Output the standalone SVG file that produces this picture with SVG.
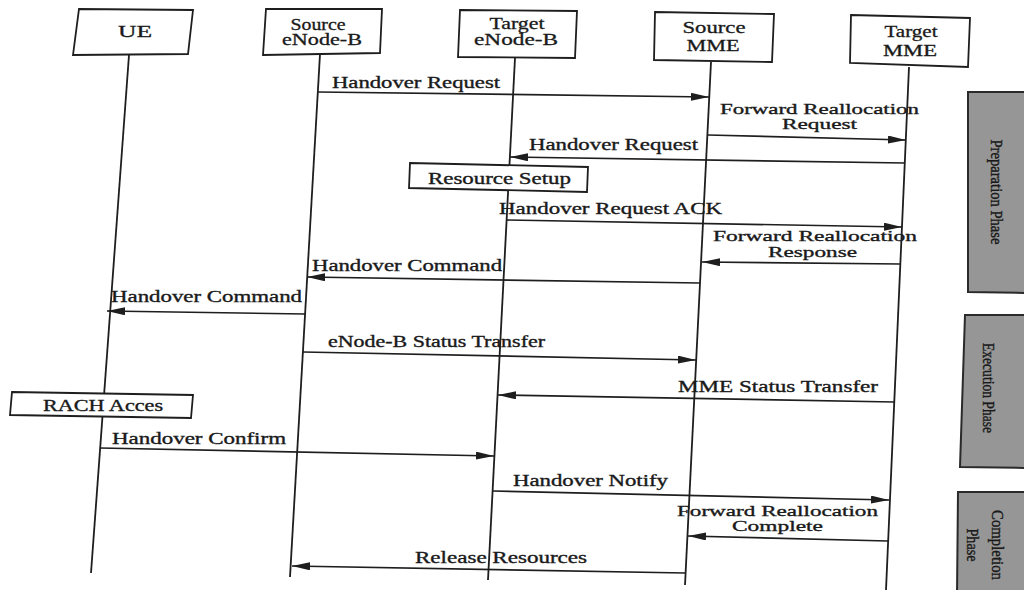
<svg xmlns="http://www.w3.org/2000/svg" width="1024" height="590" viewBox="0 0 1024 590">
  <style>
    .box { fill: #ffffff; stroke: #1e1e1e; stroke-width: 1.8; }
    .life { stroke: #1e1e1e; stroke-width: 1.8; fill: none; }
    .msg { stroke: #1e1e1e; stroke-width: 1.7; fill: none; marker-end: url(#arrow); }
    .lbl { font-family: "Liberation Serif", "Times New Roman", serif; font-size: 16px; fill: #1a1a1a; stroke: #1a1a1a; stroke-width: 0.35; }
    .lbl2 { font-family: "Liberation Serif", "Times New Roman", serif; font-size: 15px; fill: #1a1a1a; stroke: #1a1a1a; stroke-width: 0.35; }
    .hdr { font-family: "Liberation Serif", "Times New Roman", serif; font-size: 16px; fill: #1a1a1a; stroke: #1a1a1a; stroke-width: 0.3; text-anchor: middle; }
    .phase { fill: #969696; stroke: #2a2a2a; stroke-width: 2; }
    .ptxt { font-family: "Liberation Serif", "Times New Roman", serif; font-size: 17px; fill: #1a1a1a; stroke: #1a1a1a; stroke-width: 0.4; text-anchor: middle; }
  </style>
  <defs>
    <marker id="arrow" markerUnits="userSpaceOnUse" markerWidth="18" markerHeight="8" refX="18" refY="4" orient="auto">
      <path d="M0,0 L18,4 L0,8 Z" fill="#1e1e1e"/>
    </marker>
  </defs>
  <rect width="1024" height="590" fill="#ffffff"/>

  <!-- lifelines -->
  <g id="lifelines">
    <line class="life" x1="129" y1="55" x2="91" y2="573"/>
    <line class="life" x1="320" y1="54" x2="290" y2="577"/>
    <line class="life" x1="515" y1="58" x2="488" y2="580"/>
    <line class="life" x1="711" y1="62" x2="685" y2="585"/>
    <line class="life" x1="909" y1="67" x2="886" y2="590"/>
  </g>

  <!-- participants -->
  <g id="ue">
    <polygon class="box" points="79,9 193,10 188,54 73,55"/>
    <text class="hdr" x="135" y="37" textLength="34" lengthAdjust="spacingAndGlyphs">UE</text>
  </g>
  <g id="source-enb">
    <polygon class="box" points="266,9 382,9 380,53 263,55"/>
    <text class="hdr" x="318" y="30" textLength="55" lengthAdjust="spacingAndGlyphs">Source</text>
    <text class="hdr" x="322" y="45" textLength="80" lengthAdjust="spacingAndGlyphs">eNode-B</text>
  </g>
  <g id="target-enb">
    <polygon class="box" points="460,10 577,11 575,58 458,57"/>
    <text class="hdr" x="517" y="29" textLength="55" lengthAdjust="spacingAndGlyphs">Target</text>
    <text class="hdr" x="516" y="45" textLength="84" lengthAdjust="spacingAndGlyphs">eNode-B</text>
  </g>
  <g id="source-mme">
    <polygon class="box" points="655,12 774,14 772,62 654,60"/>
    <text class="hdr" x="714" y="33" textLength="63" lengthAdjust="spacingAndGlyphs">Source</text>
    <text class="hdr" x="713" y="51" textLength="53" lengthAdjust="spacingAndGlyphs">MME</text>
  </g>
  <g id="target-mme">
    <polygon class="box" points="851,15 970,18 968,67 850,63"/>
    <text class="hdr" x="911" y="37" textLength="53" lengthAdjust="spacingAndGlyphs">Target</text>
    <text class="hdr" x="910" y="56" textLength="54" lengthAdjust="spacingAndGlyphs">MME</text>
  </g>

  <!-- local actions -->
  <g id="resource-setup">
    <polygon class="box" points="410,163 588,167 587,192 409,188"/>
    <text class="lbl" x="428" y="184" textLength="143" lengthAdjust="spacingAndGlyphs">Resource Setup</text>
  </g>
  <g id="rach-access">
    <polygon class="box" points="12,392 193,395 191,418 10,415"/>
    <text class="lbl" x="43" y="411" textLength="120" lengthAdjust="spacingAndGlyphs">RACH Acces</text>
  </g>

  <!-- messages -->
  <g id="connectors">
    <line class="msg" x1="318" y1="92" x2="709" y2="97"/>
    <line class="msg" x1="708" y1="135" x2="906" y2="140"/>
    <line class="msg" x1="905" y1="163" x2="510" y2="157"/>
    <line class="msg" x1="507" y1="220" x2="902" y2="227"/>
    <line class="msg" x1="900" y1="264" x2="702" y2="262"/>
    <line class="msg" x1="700" y1="283" x2="307" y2="277"/>
    <line class="msg" x1="305" y1="314" x2="107" y2="311"/>
    <line class="msg" x1="303" y1="352" x2="696" y2="360"/>
    <line class="msg" x1="894" y1="402" x2="498" y2="395"/>
    <line class="msg" x1="100" y1="448" x2="494" y2="456"/>
    <line class="msg" x1="493" y1="491" x2="889" y2="500"/>
    <line class="msg" x1="888" y1="541" x2="688" y2="536"/>
    <line class="msg" x1="685" y1="573" x2="292" y2="566"/>
  </g>

  <!-- message labels -->
  <g id="labels">
    <text class="lbl" x="332" y="88" textLength="168" lengthAdjust="spacingAndGlyphs">Handover Request</text>
    <text class="lbl2" x="720" y="114" textLength="199" lengthAdjust="spacingAndGlyphs">Forward Reallocation</text>
    <text class="lbl2" x="782" y="129" textLength="75" lengthAdjust="spacingAndGlyphs">Request</text>
    <text class="lbl" x="529" y="150" textLength="169" lengthAdjust="spacingAndGlyphs">Handover Request</text>
    <text class="lbl" x="499" y="214" textLength="223" lengthAdjust="spacingAndGlyphs">Handover Request ACK</text>
    <text class="lbl2" x="713" y="241" textLength="204" lengthAdjust="spacingAndGlyphs">Forward Reallocation</text>
    <text class="lbl2" x="768" y="257" textLength="89" lengthAdjust="spacingAndGlyphs">Response</text>
    <text class="lbl" x="312" y="271" textLength="190" lengthAdjust="spacingAndGlyphs">Handover Command</text>
    <text class="lbl" x="111" y="302" textLength="191" lengthAdjust="spacingAndGlyphs">Handover Command</text>
    <text class="lbl" x="328" y="347" textLength="217" lengthAdjust="spacingAndGlyphs">eNode-B Status Transfer</text>
    <text class="lbl" x="678" y="392" textLength="200" lengthAdjust="spacingAndGlyphs">MME Status Transfer</text>
    <text class="lbl" x="112" y="444" textLength="174" lengthAdjust="spacingAndGlyphs">Handover Confirm</text>
    <text class="lbl" x="513" y="486" textLength="155" lengthAdjust="spacingAndGlyphs">Handover Notify</text>
    <text class="lbl2" x="677" y="516" textLength="201" lengthAdjust="spacingAndGlyphs">Forward Reallocation</text>
    <text class="lbl2" x="732" y="531" textLength="91" lengthAdjust="spacingAndGlyphs">Complete</text>
    <text class="lbl" x="415" y="563" textLength="172" lengthAdjust="spacingAndGlyphs">Release Resources</text>
  </g>

  <!-- phase bars -->
  <g id="preparation-phase">
    <polygon class="phase" points="968,92 1030,92 1030,293 968,292"/>
    <text class="ptxt" transform="translate(991,192) rotate(90)" textLength="105" lengthAdjust="spacingAndGlyphs">Preparation Phase</text>
  </g>
  <g id="execution-phase">
    <polygon class="phase" points="965,315 1030,315 1030,468 960,467"/>
    <text class="ptxt" transform="translate(983,388) rotate(90)" textLength="90" lengthAdjust="spacingAndGlyphs">Execution Phase</text>
  </g>
  <g id="completion-phase">
    <polygon class="phase" points="958,492 1030,492 1030,595 957,595"/>
    <text class="ptxt" transform="translate(992,545) rotate(90)" textLength="70" lengthAdjust="spacingAndGlyphs">Completion</text>
    <text class="ptxt" transform="translate(967,545) rotate(90)" textLength="33" lengthAdjust="spacingAndGlyphs">Phase</text>
  </g>
</svg>
